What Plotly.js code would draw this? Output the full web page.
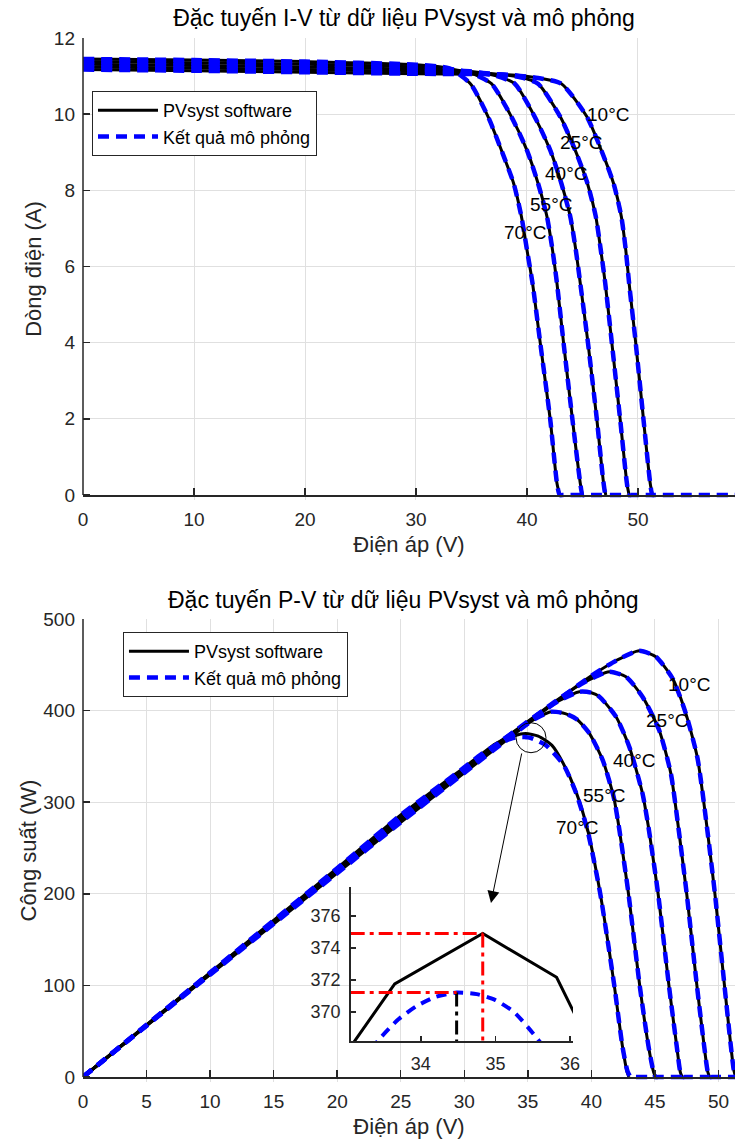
<!DOCTYPE html>
<html><head><meta charset="utf-8">
<script src="https://cdn.plot.ly/plotly-3.0.1.min.js"></script>
<style>html,body{margin:0;padding:0;background:#fff}#chart{width:735px;height:1140px}</style>
</head><body><div id="chart"></div>
<script>
// ---------------- DATA ----------------
const temps = ['10°C', '25°C', '40°C', '55°C', '70°C'];

// I-V, PVsyst software
const ivV10 = [0, 10, 20, 30, 38, 41.0, 43.1, 45.4, 46.7, 47.8, 48.5, 48.9, 49.2, 49.8, 50.5, 51.1, 51.3];
const ivI10 = [11.17, 11.14, 11.10, 11.06, 11.04, 10.95, 10.8, 9.93, 9.05, 8.18, 7.31, 6.43, 5.56, 3.98, 1.97, 0.31, 0];
const ivV25 = [0, 10, 20, 30, 36, 39.4, 41.0, 43.0, 44.35, 45.45, 46.2, 46.65, 47.05, 47.65, 48.4, 49.0, 49.2];
const ivI25 = [11.24, 11.21, 11.17, 11.12, 11.08, 10.97, 10.8, 9.93, 9.05, 8.18, 7.31, 6.43, 5.56, 3.98, 1.97, 0.31, 0];
const ivV40 = [0, 10, 20, 30, 35, 37.3, 38.9, 40.7, 42.1, 43.1, 43.9, 44.4, 44.8, 45.5, 46.3, 46.9, 47.1];
const ivI40 = [11.31, 11.28, 11.24, 11.18, 11.12, 11.0, 10.8, 9.93, 9.05, 8.18, 7.31, 6.43, 5.56, 3.98, 1.97, 0.31, 0];
const ivV55 = [0, 10, 20, 30, 33.5, 35.2, 36.8, 38.6, 40.0, 41.0, 41.8, 42.3, 42.7, 43.3, 44.1, 44.8, 45.0];
const ivI55 = [11.38, 11.35, 11.31, 11.24, 11.17, 11.05, 10.8, 9.93, 9.05, 8.18, 7.31, 6.43, 5.56, 3.98, 1.97, 0.31, 0];
const ivV70 = [0, 10, 20, 30, 33, 34.9, 36.5, 37.7, 38.8, 39.5, 40.0, 40.5, 41.2, 42.1, 42.7, 42.95];
const ivI70 = [11.45, 11.42, 11.38, 11.30, 11.2, 10.8, 9.93, 9.05, 8.18, 7.31, 6.43, 5.56, 3.98, 1.97, 0.31, 0];

// I-V, simulation: same curves, continued along I = 0 (tail voltages per curve, 10..70 °C)
const ivSimTailV = [[51.6, 60], [49.5, 51.3], [47.4, 49.2], [45.3, 47.0], [43.25, 45.0]];
const ivSimTailI = [[0, 0], [0, 0], [0, 0], [0, 0], [0, 0]];

// P-V, PVsyst software
const pvV10 = [0, 10, 20, 25, 30, 34, 38, 40, 42, 43.76, 45.07, 46.38, 47.43, 48.35, 49.1, 49.72, 50.47, 50.98, 51.2, 51.35];
const pvP10 = [0, 111.7, 222.5, 278, 332, 375, 418, 438, 455, 465.4, 458.8, 435.3, 397, 348, 272, 200, 100, 33, 8, 0];
const pvV25 = [0, 10, 20, 25, 30, 34, 37, 39.2, 40.4, 41.41, 42.72, 44.02, 45.33, 46.25, 46.85, 47.5, 48.3, 48.88, 49.15, 49.3];
const pvP25 = [0, 112.5, 224.5, 280.5, 334, 377, 408.5, 429, 437.5, 442.5, 437, 415.2, 378.8, 331.5, 272, 200, 100, 33, 6, 0];
const pvV40 = [0, 10, 20, 25, 30, 34, 36, 37.5, 39.06, 40.0, 40.63, 41.94, 42.98, 44.02, 44.5, 45.25, 46.1, 46.72, 47.0, 47.15];
const pvP40 = [0, 113, 226, 282.5, 335, 378, 398, 411, 420.6, 419.5, 415.2, 393.3, 360.6, 309.7, 272, 200, 100, 33, 5, 0];
const pvV55 = [0, 10, 20, 25, 30, 33, 34.5, 35.7, 36.84, 38.0, 38.9, 39.84, 40.89, 41.75, 42.2, 42.92, 43.8, 44.5, 44.9, 45.05];
const pvP55 = [0, 113.5, 227, 284, 336, 368, 382, 392, 398.8, 396.5, 390, 375.2, 346, 306, 270, 200, 100, 33, 5, 0];
const pvV70 = [0, 10, 20, 25, 30, 31.3, 32.45, 33.65, 34.83, 35.82, 36.9, 37.8, 38.8, 39.7, 40.7, 41.8, 42.45, 42.8, 42.95];
const pvP70 = [0, 114, 228, 286, 338, 352, 363.8, 371.76, 374.9, 372.17, 362, 342, 311, 270, 200, 100, 33, 6, 0];

// P-V, simulation (70 °C read in detail from the inset)
const pvSimV70 = [0, 10, 20, 25, 30, 31.3, 32.5, 33.43, 33.7, 33.94, 34.2, 34.48, 34.75, 35.0, 35.25, 35.5, 35.75, 36.45, 37.8, 38.8, 39.7, 40.7, 41.8, 42.45, 42.85, 43.1, 43.4, 45.05];
const pvSimP70 = [0, 114, 228, 286, 338, 352, 362.5, 368.24, 369.55, 370.37, 370.95, 371.22, 371.12, 370.75, 370.0, 368.7, 367.2, 362, 341, 310, 269, 200, 100, 33, 6, 0, 0, 0];
const pvSimTailV = [[51.65, 60], [49.6, 51.35], [47.45, 49.3], [45.35, 47.15]];
const pvSimTailP = [[0, 0], [0, 0], [0, 0], [0, 0]];

// ---------------- STYLE / LAYOUT ----------------
const FONT = 'Arial, "Liberation Sans", Helvetica, sans-serif';
const TXT = '#262626';
const BLACK_W = 3, BLUE_W = 4.5, BLUE = '#0000ff', BLUE_DASH = '11px,7px';
const SM = 0.6;

const ivVs = [ivV10, ivV25, ivV40, ivV55, ivV70];
const ivIs = [ivI10, ivI25, ivI40, ivI55, ivI70];
const pvVs = [pvV10, pvV25, pvV40, pvV55, pvV70];
const pvPs = [pvP10, pvP25, pvP40, pvP55, pvP70];

const traces = [];
function blackLine(x, y, xa, ya, show, lg) {
  return {x, y, type: 'scatter', mode: 'lines', xaxis: xa, yaxis: ya,
    line: {color: '#000', width: BLACK_W, shape: 'spline', smoothing: SM},
    name: 'PVsyst software', showlegend: show, legend: lg, hoverinfo: 'skip'};
}
function blueLine(x, y, xa, ya, show, lg) {
  return {x, y, type: 'scatter', mode: 'lines', xaxis: xa, yaxis: ya,
    line: {color: BLUE, width: BLUE_W, dash: BLUE_DASH, shape: 'spline', smoothing: SM},
    name: 'Kết quả mô phỏng', showlegend: show, legend: lg, hoverinfo: 'skip'};
}
// I-V
ivVs.forEach((v, k) => traces.push(blackLine(v, ivIs[k], 'x', 'y', k === 0, 'legend')));
ivVs.forEach((v, k) => traces.push(blueLine(v.concat(ivSimTailV[k]), ivIs[k].concat(ivSimTailI[k]), 'x', 'y', k === 0, 'legend')));
// P-V
pvVs.forEach((v, k) => traces.push(blackLine(v, pvPs[k], 'x2', 'y2', k === 0, 'legend2')));
pvVs.forEach((v, k) => {
  if (k === 4) traces.push(blueLine(pvSimV70, pvSimP70, 'x2', 'y2', false, 'legend2'));
  else traces.push(blueLine(v.concat(pvSimTailV[k]), pvPs[k].concat(pvSimTailP[k]), 'x2', 'y2', k === 0, 'legend2'));
});

// Inset: zoom on the 70 °C maximum power point
const insetX = [33.06, 36.04], insetY = [368.2, 377.8];
traces.push({x: pvV70, y: pvP70, type: 'scatter', mode: 'lines', xaxis: 'x3', yaxis: 'y3',
  line: {color: '#000', width: 3}, showlegend: false, hoverinfo: 'skip'});
traces.push({x: pvSimV70, y: pvSimP70, type: 'scatter', mode: 'lines', xaxis: 'x3', yaxis: 'y3',
  line: {color: BLUE, width: 4, dash: '10px,7px', shape: 'spline', smoothing: SM}, showlegend: false, hoverinfo: 'skip'});
function argmax(a) { let m = 0; a.forEach((v, i) => { if (v > a[m]) m = i; }); return m; }
const iP = argmax(pvP70), iS = argmax(pvSimP70);
const vmp = pvV70[iP], pmp = pvP70[iP], vms = pvSimV70[iS], pms = pvSimP70[iS];
const DD = '14px,5px,4px,5px';
const ddLine = (x, y, c) => ({x, y, type: 'scatter', mode: 'lines', xaxis: 'x3', yaxis: 'y3',
  line: {color: c, width: 3, dash: DD}, showlegend: false, hoverinfo: 'skip'});
traces.push(ddLine([vms, vms], [pms, insetY[0]], '#000'));
traces.push(ddLine([insetX[0], vmp], [pmp, pmp], '#ff0000'));
traces.push(ddLine([vmp, vmp], [pmp, insetY[0]], '#ff0000'));
traces.push(ddLine([insetX[0], vms], [pms, pms], '#ff0000'));

// Plot geometry (px): plot area from y=38 to y=1082; value 0 sits 5 px above the bottom of each panel
const H = 1044, B = 1082;
const py = p => (B - p) / H;
const ax = {
  showline: true, linecolor: TXT, linewidth: 1.5, ticks: 'inside', ticklen: 7, tickwidth: 1.5, tickcolor: TXT,
  showgrid: true, gridcolor: '#e0e0e0', gridwidth: 1, zeroline: false, automargin: false,
  tickfont: {family: FONT, size: 19, color: TXT}
};
const atitle = (t, s) => ({text: t, font: {family: FONT, size: 22, color: TXT}, standoff: s});

const tempsIV = [[45.23, 10.0], [42.79, 9.25], [41.44, 8.45], [40.09, 7.62], [37.75, 6.9]];
const tempsPV = [[45.87, 428.6], [44.11, 388.8], [41.54, 345.1], [39.18, 307], [37.03, 272]];
const annotations = [];
temps.forEach((t, k) => {
  annotations.push({xref: 'x', yref: 'y', x: tempsIV[k][0], y: tempsIV[k][1], text: t, showarrow: false,
    xanchor: 'left', yanchor: 'middle', font: {family: FONT, size: 19, color: '#000'}});
  annotations.push({xref: 'x2', yref: 'y2', x: tempsPV[k][0], y: tempsPV[k][1], text: t, showarrow: false,
    xanchor: 'left', yanchor: 'middle', font: {family: FONT, size: 19, color: '#000'}});
});
annotations.push({xref: 'paper', yref: 'paper', x: 0.4923, y: py(600), xanchor: 'center', yanchor: 'middle',
  text: 'Đặc tuyến P-V từ dữ liệu PVsyst và mô phỏng', showarrow: false, font: {family: FONT, size: 23, color: '#000'}});
annotations.push({xref: 'x2', yref: 'y2', x: 32.1, y: 190, ax: 31, ay: -151, text: '', showarrow: true,
  arrowhead: 2, arrowsize: 2.4, arrowwidth: 1, arrowcolor: '#000'});

const legendStyle = {xref: 'paper', yref: 'paper', xanchor: 'left', yanchor: 'top', bgcolor: '#ffffff',
  bordercolor: TXT, borderwidth: 1, font: {family: FONT, size: 18, color: '#000'}, itemwidth: 60, tracegroupgap: 0};

const yLine = (yr, y1) => ({type: 'line', xref: 'paper', yref: yr, x0: 0, x1: 0, y0: 0, y1: y1,
  line: {color: TXT, width: 1.5}, layer: 'above'});

const layout = {
  width: 735, height: 1140, margin: {l: 83, r: 0, t: 38, b: 1140 - B, pad: 0},
  paper_bgcolor: '#fff', plot_bgcolor: 'rgba(0,0,0,0)', hovermode: false,
  font: {family: FONT, color: TXT},
  title: {text: 'Đặc tuyến I-V từ dữ liệu PVsyst và mô phỏng', font: {family: FONT, size: 23, color: '#000'},
    xref: 'paper', x: 0.4923, xanchor: 'center', yref: 'container', y: 1 - 18 / 1140, yanchor: 'middle'},
  xaxis: Object.assign({}, ax, {domain: [0, 1], anchor: 'free', position: py(495), range: [0, 58.74], tick0: 0, dtick: 10,
    ticklabelstandoff: 7, title: atitle('Điện áp (V)', 7)}),
  yaxis: Object.assign({}, ax, {domain: [py(500), 1], anchor: 'x', range: [-5 / 38.08, 12], tick0: 0, dtick: 2,
    showline: false, ticklabelstandoff: 7, title: atitle('Dòng điện (A)', 6)}),
  xaxis2: Object.assign({}, ax, {domain: [0, 1], anchor: 'free', position: py(1077), range: [0, 51.3], tick0: 0, dtick: 5,
    ticklabelstandoff: 7, title: atitle('Điện áp (V)', 7)}),
  yaxis2: Object.assign({}, ax, {domain: [0, py(619)], anchor: 'x2', range: [-5 / 0.916, 500], tick0: 0, dtick: 100,
    showline: false, ticklabelstandoff: 7, title: atitle('Công suất (W)', 0)}),
  xaxis3: Object.assign({}, ax, {domain: [0.41058, 0.75153], anchor: 'y3', range: insetX, tickvals: [34, 35, 36],
    showgrid: false, ticklen: 5, ticklabelstandoff: 6, tickfont: {family: FONT, size: 18, color: TXT}}),
  yaxis3: Object.assign({}, ax, {domain: [py(1041), py(887)], anchor: 'x3', range: insetY, tickvals: [370, 372, 374, 376],
    showgrid: false, ticklen: 5, ticklabelstandoff: 5, tickfont: {family: FONT, size: 18, color: TXT}}),
  legend: Object.assign({}, legendStyle, {x: 0.0138, y: py(91)}),
  legend2: Object.assign({}, legendStyle, {x: 0.0613, y: py(632)}),
  annotations: annotations,
  shapes: [
    yLine('y', 12), yLine('y2', 500),
    {type: 'circle', xref: 'x2', yref: 'y2', xsizemode: 'pixel', ysizemode: 'pixel',
      xanchor: 35.25, yanchor: 370.4, x0: -15, x1: 15, y0: -15, y1: 15, line: {color: '#000', width: 1}}]
};
Plotly.newPlot('chart', traces, layout, {staticPlot: true, displayModeBar: false});
</script></body></html>
